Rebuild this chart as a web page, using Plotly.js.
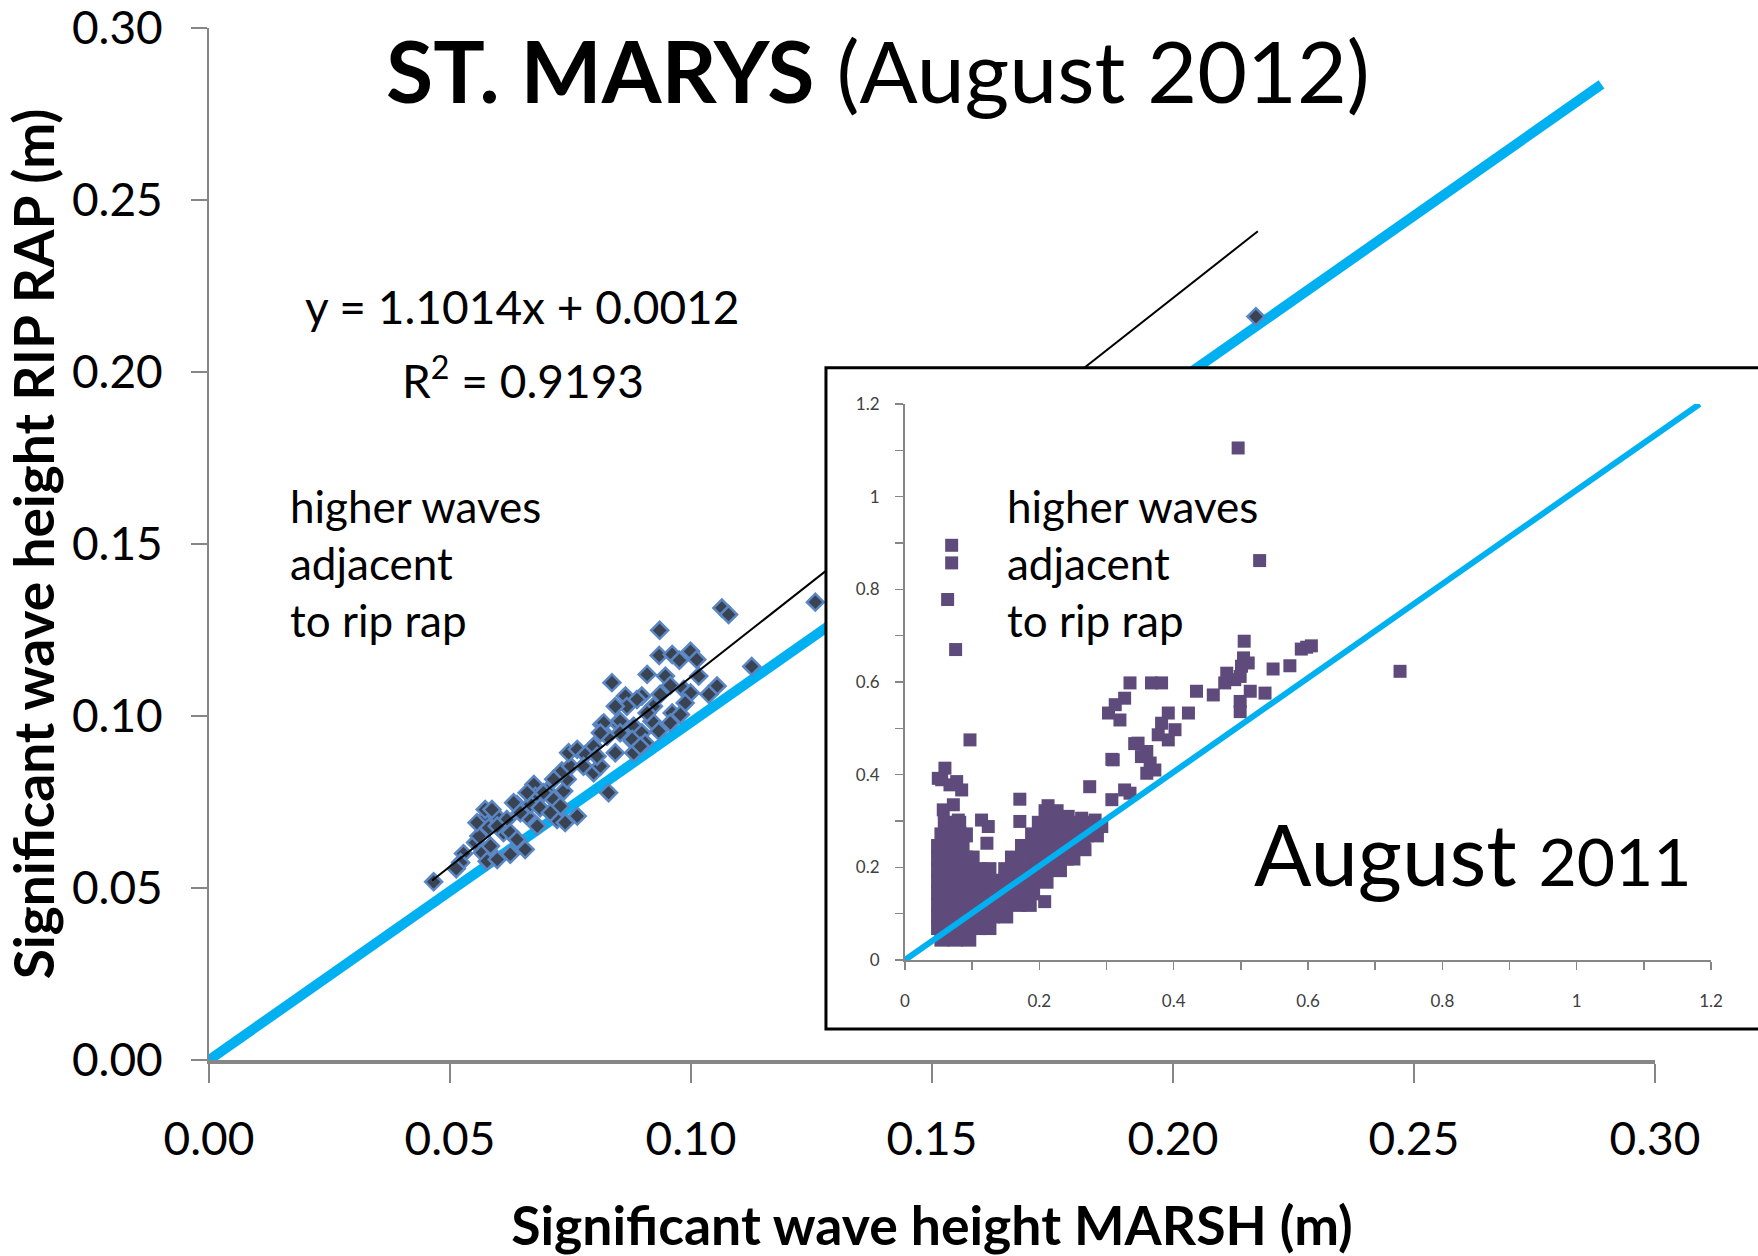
<!DOCTYPE html>
<html>
<head>
<meta charset="utf-8">
<script src="https://cdn.plot.ly/plotly-3.0.1.min.js"></script>
<style>html,body{margin:0;padding:0;background:#fff}#chart{width:1758px;height:1256px}</style>
</head>
<body>
<div id="chart"></div>
<script>
// ---- Main chart: St. Marys, August 2012 ----
const marshHs = [0.0466,0.0528,0.0522,0.0513,0.0553,0.0567,0.0560,0.0556,0.0577,0.0594,0.0580,0.0573,0.0587,0.0618,0.0611,0.0639,0.0660,0.0656,0.0625,0.0674,0.0677,0.0701,0.0667,0.0687,0.0715,0.0736,0.0743,0.0732,0.0750,0.0764,0.0746,0.0764,0.0781,0.0798,0.0777,0.0798,0.0815,0.0847,0.0826,0.0843,0.0829,0.0878,0.0722,0.0577,0.0598,0.0598,0.0584,0.0625,0.0639,0.0632,0.0646,0.0681,0.0715,0.0694,0.0739,0.0729,0.0708,0.0660,0.0812,0.0805,0.0935,0.1064,0.1078,0.1258,0.0934,0.0961,0.0976,0.0999,0.1012,0.1126,0.0836,0.0909,0.0947,0.0957,0.1054,0.1037,0.1016,0.0985,0.0999,0.0864,0.0898,0.0867,0.0843,0.0936,0.0922,0.0988,0.0819,0.0853,0.0881,0.0961,0.0978,0.0957,0.0919,0.0933,0.0898,0.0878,0.0905,0.0812,0.0853,0.0888,0.0909,0.0881,0.0895,0.2172];
const ripRapHs = [0.0518,0.0600,0.0574,0.0556,0.0632,0.0603,0.0651,0.0690,0.0709,0.0712,0.0675,0.0728,0.0728,0.0699,0.0661,0.0743,0.0709,0.0612,0.0598,0.0801,0.0767,0.0782,0.0743,0.0733,0.0757,0.0782,0.0816,0.0840,0.0854,0.0709,0.0893,0.0903,0.0888,0.0912,0.0854,0.0835,0.0975,0.0980,0.0941,0.0893,0.0777,0.0927,0.0699,0.0578,0.0583,0.0680,0.0622,0.0661,0.0641,0.0748,0.0719,0.0680,0.0816,0.0777,0.0690,0.0738,0.0719,0.0777,0.0854,0.0883,0.1249,0.1314,0.1295,0.1331,0.1176,0.1179,0.1162,0.1188,0.1164,0.1144,0.1097,0.1121,0.1116,0.1089,0.1087,0.1063,0.1116,0.1077,0.1067,0.1058,0.1058,0.1028,0.1028,0.1063,0.1028,0.1038,0.0980,0.0985,0.0970,0.1009,0.1004,0.0980,0.0985,0.0956,0.0951,0.0932,0.0922,0.0951,0.0951,0.1048,0.1009,0.0893,0.0912,0.2161];
const trendX = [0.0463, 0.2176];
const trendY = [0.0522, 0.2409];
const oneToOneX = [0, 0.2889];
const oneToOneY = [0, 0.2836];
const mainTickVals = [0, 0.05, 0.10, 0.15, 0.20, 0.25, 0.30];
const mainTickText = ['0.00','0.05','0.10','0.15','0.20','0.25','0.30'];

// ---- Inset: August 2011 (scattered points) ----
const insetMarsh = [
  0.496,0.0695,0.0695,0.0635,0.0754,0.528,0.505,0.598,0.605,0.590,0.573,0.548,0.504,0.511,0.501,0.479,0.491,0.476,0.499,0.514,0.536,0.499,0.499,0.459,0.434,0.335,0.367,0.382,0.327,0.313,0.303,0.320,0.392,0.422,0.382,0.402,0.392,0.377,0.347,0.360,0.365,0.360,0.372,0.310,0.327,0.308,0.335,0.293,0.737,
  0.0968,0.0595,0.0546,0.0670,0.0770,0.0844,0.0496,0.057,0.072,0.0794,0.0595,0.0819,0.114,0.124,0.122,0.171,0.171,0.213,0.275,0.308,0.342,0.352,0.208,0.243,0.263,0.283,0.268,0.253];
const insetRipRap = [
  1.105,0.895,0.857,0.778,0.670,0.862,0.688,0.675,0.678,0.671,0.635,0.628,0.652,0.641,0.634,0.619,0.605,0.598,0.612,0.580,0.576,0.558,0.536,0.572,0.580,0.598,0.598,0.598,0.565,0.551,0.533,0.518,0.533,0.533,0.511,0.497,0.475,0.486,0.468,0.450,0.425,0.403,0.410,0.432,0.367,0.346,0.360,0.288,0.623,
  0.475,0.414,0.389,0.378,0.385,0.367,0.392,0.324,0.335,0.302,0.274,0.274,0.302,0.288,0.252,0.347,0.299,0.333,0.374,0.433,0.467,0.439,0.126,0.310,0.306,0.302,0.238,0.252];
// ---- Inset: dense cluster of points near the origin ----
const insetDenseMarsh = [
  0.055,0.075,0.095,
  0.05,0.07,0.09,0.11,0.125,
  0.05,0.07,0.09,0.11,0.13,0.15,
  0.05,0.07,0.09,0.11,0.13,0.15,0.17,0.185,
  0.05,0.07,0.09,0.11,0.13,0.15,0.17,0.19,
  0.05,0.07,0.09,0.11,0.13,0.15,0.17,0.19,0.21,
  0.05,0.07,0.09,0.11,0.125,0.15,0.17,0.19,0.21,0.23,
  0.05,0.07,0.09,0.10,0.16,0.18,0.20,0.22,0.24,0.25,
  0.05,0.07,0.085,0.175,0.19,0.21,0.23,0.25,0.265,
  0.055,0.075,0.09,0.19,0.21,0.23,0.25,0.27,0.285,
  0.06,0.08,0.20,0.22,0.24,0.26,0.28,
  0.21,0.225];
const insetDenseRipRap = [
  0.045,0.045,0.045,
  0.07,0.07,0.07,0.07,0.07,
  0.095,0.095,0.095,0.095,0.095,0.095,
  0.12,0.12,0.12,0.12,0.12,0.12,0.12,0.12,
  0.145,0.145,0.145,0.145,0.145,0.145,0.145,0.145,
  0.17,0.17,0.17,0.17,0.17,0.17,0.17,0.17,0.17,
  0.195,0.195,0.195,0.195,0.195,0.195,0.195,0.195,0.195,0.195,
  0.22,0.22,0.22,0.22,0.22,0.22,0.22,0.22,0.22,0.22,
  0.245,0.245,0.245,0.245,0.245,0.245,0.245,0.245,0.245,
  0.27,0.27,0.27,0.27,0.27,0.27,0.27,0.27,0.27,
  0.295,0.295,0.295,0.295,0.295,0.295,0.295,
  0.32,0.32];
const insetOneToOneX = [0, 1.183];
const insetOneToOneY = [0, 1.2];

const FONT = 'Lato, "Open Sans", sans-serif';
const GRAY = '#868686';
const PURPLE = '#5f4b7b';

const traces = [
  {x: oneToOneX, y: oneToOneY, xaxis: 'x', yaxis: 'y', mode: 'lines',
   line: {color: '#00b0f0', width: 10}, hoverinfo: 'skip'},
  {x: marshHs, y: ripRapHs, xaxis: 'x', yaxis: 'y', mode: 'markers',
   marker: {symbol: 'diamond', size: 13, color: '#3a4352', line: {color: '#5a86c4', width: 2.5}}},
  {x: trendX, y: trendY, xaxis: 'x', yaxis: 'y', mode: 'lines',
   line: {color: '#000000', width: 2}, hoverinfo: 'skip'},
  // inset frame subplot (white panel covering the main plot)
  {x: [], y: [], xaxis: 'x2', yaxis: 'y2', mode: 'markers', hoverinfo: 'skip'},
  // inset data
  {x: insetDenseMarsh, y: insetDenseRipRap, xaxis: 'x3', yaxis: 'y3', mode: 'markers',
   marker: {symbol: 'square', size: 15, color: PURPLE}},
  {x: insetMarsh, y: insetRipRap, xaxis: 'x3', yaxis: 'y3', mode: 'markers',
   marker: {symbol: 'square', size: 13, color: PURPLE}},
  {x: insetOneToOneX, y: insetOneToOneY, xaxis: 'x3', yaxis: 'y3', mode: 'lines',
   line: {color: '#00b0f0', width: 6}, hoverinfo: 'skip'}
];

const layout = {
  width: 1758, height: 1256,
  margin: {l: 209, r: 0, t: 28, b: 196, pad: 0},
  paper_bgcolor: '#ffffff', plot_bgcolor: '#ffffff',
  showlegend: false,
  font: {family: FONT, color: '#000000'},
  title: {text: '<b>ST. MARYS</b> (August 2012)', font: {family: FONT, size: 86, color: '#000'},
          x: 0.4994, xref: 'container', xanchor: 'center', y: 0.942, yref: 'container', yanchor: 'middle'},
  xaxis: {domain: [0, 0.9335], anchor: 'y', range: [0, 0.30], tickmode: 'array',
          tickvals: mainTickVals, ticktext: mainTickText,
          showline: true, linecolor: GRAY, linewidth: 4, ticks: 'outside', ticklen: 19,
          tickwidth: 2, tickcolor: GRAY, showgrid: false, zeroline: false,
          tickfont: {family: FONT, size: 46, color: '#000'}, ticklabelstandoff: 17,
          ticklabeloverflow: 'allow',
          title: {text: '<b>Significant wave height MARSH (m)</b>', font: {family: FONT, size: 53.5, color: '#000'}, standoff: 52}},
  yaxis: {domain: [0, 1], anchor: 'x', range: [0, 0.30], tickmode: 'array',
          tickvals: mainTickVals, ticktext: mainTickText,
          showline: true, linecolor: GRAY, linewidth: 2, ticks: 'outside', ticklen: 16,
          tickwidth: 2, tickcolor: GRAY, showgrid: false, zeroline: false,
          tickfont: {family: FONT, size: 46, color: '#000'}, ticklabelstandoff: 19,
          ticklabeloverflow: 'allow',
          title: {text: '<b>Significant wave height RIP RAP (m)</b>', font: {family: FONT, size: 55, color: '#000'}, standoff: 14}},
  xaxis2: {domain: [0.3983, 1], anchor: 'y2', range: [0, 1], visible: false, fixedrange: true},
  yaxis2: {domain: [0.030, 0.6708], anchor: 'x2', range: [0, 1], visible: false, fixedrange: true},
  xaxis3: {domain: [0.4493, 0.9697], anchor: 'y3', range: [0, 1.2], tick0: 0, dtick: 0.2,
           showline: true, linecolor: GRAY, linewidth: 2, ticks: 'outside', ticklen: 8,
           tickwidth: 1.5, tickcolor: GRAY, showgrid: false, zeroline: false,
           minor: {dtick: 0.1, tick0: 0, ticks: 'outside', ticklen: 8, tickwidth: 1.5, tickcolor: GRAY},
           tickfont: {family: FONT, size: 17, color: '#404040'}, ticklabelstandoff: 17},
  yaxis3: {domain: [0.0969, 0.6357], anchor: 'x3', range: [0, 1.2], tick0: 0, dtick: 0.2,
           showline: true, linecolor: GRAY, linewidth: 2, ticks: 'outside', ticklen: 8,
           tickwidth: 1.5, tickcolor: GRAY, showgrid: false, zeroline: false,
           minor: {dtick: 0.1, tick0: 0, ticks: 'outside', ticklen: 8, tickwidth: 1.5, tickcolor: GRAY},
           tickfont: {family: FONT, size: 17, color: '#404040'}, ticklabelstandoff: 12},
  shapes: [
    {type: 'rect', xref: 'paper', yref: 'paper', x0: 0.3983, x1: 1.1, y0: 0.030, y1: 0.6708,
     line: {color: '#000000', width: 3}, fillcolor: 'rgba(0,0,0,0)', layer: 'above'}
  ],
  annotations: [
    {xref: 'paper', yref: 'paper', x: 0.2021, y: 0.7306, xanchor: 'center', yanchor: 'middle', showarrow: false,
     text: 'y = 1.1014x + 0.0012', font: {family: FONT, size: 46, color: '#000'}},
    {xref: 'paper', yref: 'paper', x: 0.2027, y: 0.6609, xanchor: 'center', yanchor: 'middle', showarrow: false,
     text: 'R<sup>2</sup> = 0.9193', font: {family: FONT, size: 46, color: '#000'}},
    {xref: 'paper', yref: 'paper', x: 0.0511, y: 0.4816, xanchor: 'left', yanchor: 'middle', align: 'left', showarrow: false,
     text: 'higher waves<br>adjacent<br>to rip rap', font: {family: FONT, size: 44, color: '#000'}},
    {xref: 'paper', yref: 'paper', x: 0.5136, y: 0.4816, xanchor: 'left', yanchor: 'middle', align: 'left', showarrow: false,
     text: 'higher waves<br>adjacent<br>to rip rap', font: {family: FONT, size: 44, color: '#000'}},
    {xref: 'paper', yref: 'paper', x: 0.6733, y: 0.201, xanchor: 'left', yanchor: 'middle', showarrow: false,
     text: 'August <span style="font-size:66px">2011</span>', font: {family: FONT, size: 85, color: '#000'}}
  ]
};

Plotly.newPlot('chart', traces, layout, {staticPlot: true, displayModeBar: false});
</script>
</body>
</html>
